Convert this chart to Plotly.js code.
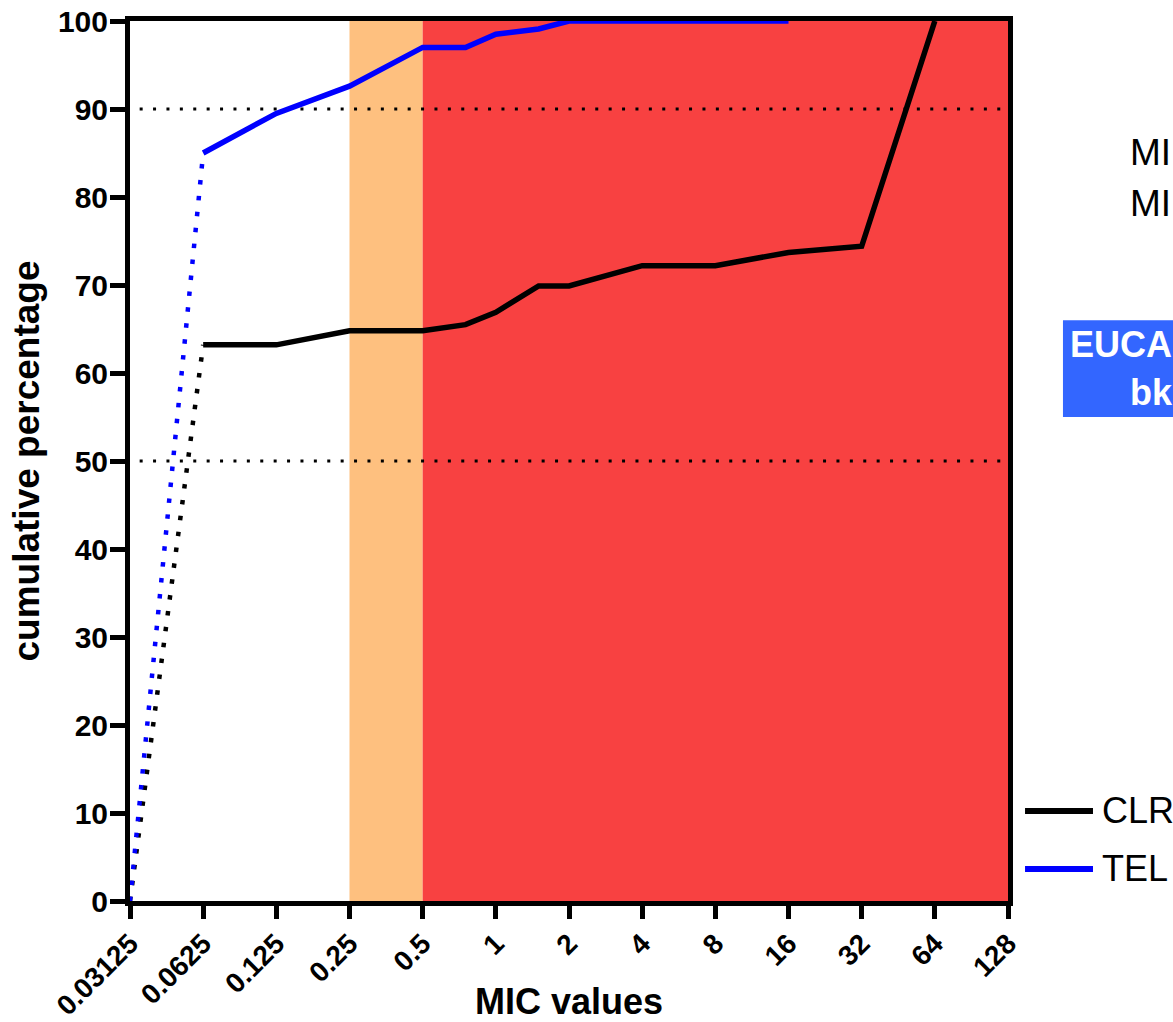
<!DOCTYPE html>
<html><head><meta charset="utf-8">
<script src="https://cdn.plot.ly/plotly-3.0.1.min.js"></script>
<style>html,body{margin:0;padding:0;background:#fff;overflow:hidden}</style>
</head><body><div id="chart" style="width:1173px;height:1022px"></div>
<script>
// ---- data ----
const micTicks = [0.03125, 0.0625, 0.125, 0.25, 0.5, 1, 2, 4, 8, 16, 32, 64, 128];
const micTickText = ['0.03125', '0.0625', '0.125', '0.25', '0.5', '1', '2', '4', '8', '16', '32', '64', '128'];
const yTicks = [0, 10, 20, 30, 40, 50, 60, 70, 80, 90, 100];
const clrMic = [0.03125, 0.0625, 0.125, 0.25, 0.5, 0.75, 1, 1.5, 2, 4, 8, 16, 32, 64];
const clrCum = [0, 63.2, 63.2, 64.8, 64.8, 65.5, 66.9, 69.9, 69.9, 72.2, 72.2, 73.7, 74.4, 100];
const telMic = [0.03125, 0.0625, 0.125, 0.25, 0.5, 0.75, 1, 1.5, 2, 4, 8, 16];
const telCum = [0, 85.0, 89.5, 92.6, 97.0, 97.0, 98.5, 99.1, 100, 100, 100, 100];
const refLines = [50, 90];
const intermediateZone = [0.25, 0.5];
const resistantZone = [0.5, 128];
const seriesNames = ['CLR', 'TEL'];
const sideLabels = ['MI', 'MI'];
const bkptLabels = ['EUCA', 'bk'];

// ---- style ----
const FONT = 'Arial, "Liberation Sans", sans-serif';
const BLACK = '#000000', BLUE = '#0000ff';
const ORANGE = '#fec07f', RED = '#f84141', BOXBLUE = '#3366ff';

function seg(x, y, from, to) { return {x: x.slice(from, to), y: y.slice(from, to)}; }

const traces = [];
[[clrMic, clrCum, BLACK], [telMic, telCum, BLUE]].forEach(([x, y, c]) => {
  const d = seg(x, y, 0, 2);
  traces.push({x: d.x, y: d.y, type: 'scatter', mode: 'lines', showlegend: false, hoverinfo: 'skip',
    line: {color: c, width: 4.5, dash: '4.5px,11.5px'}});
  const s = seg(x, y, 1);
  traces.push({x: s.x, y: s.y, type: 'scatter', mode: 'lines', showlegend: false,
    line: {color: c, width: 5.5}});
});

const shapes = [
  {type: 'rect', xref: 'x', yref: 'paper', x0: intermediateZone[0], x1: intermediateZone[1], y0: 0, y1: 1,
   fillcolor: ORANGE, line: {width: 0}, layer: 'below'},
  {type: 'rect', xref: 'x', yref: 'paper', x0: resistantZone[0], x1: resistantZone[1], y0: 0, y1: 1,
   fillcolor: RED, line: {width: 0}, layer: 'below'}
];
refLines.forEach(v => shapes.push({type: 'line', xref: 'paper', yref: 'y', x0: 0.011, x1: 0.992, y0: v, y1: v,
  line: {color: BLACK, width: 3, dash: '3px,10.4px'}, layer: 'below'}));

// legend (manual)
const legY = [0.1023, 0.0364];
[BLACK, BLUE].forEach((c, i) => shapes.push({type: 'line', xref: 'paper', yref: 'paper',
  x0: 1.0194, x1: 1.0968, y0: legY[i], y1: legY[i], line: {color: c, width: 6}}));
// EUCAST box
shapes.push({type: 'rect', xref: 'paper', yref: 'paper', x0: 1.0626, x1: 1.3, y0: 0.55, y1: 0.660,
  fillcolor: BOXBLUE, line: {width: 0}});

const annotations = [];
seriesNames.forEach((n, i) => annotations.push({xref: 'paper', yref: 'paper', x: 1.1048, y: legY[i],
  xanchor: 'left', yanchor: 'middle', text: n, showarrow: false,
  font: {family: FONT, size: 36, color: BLACK}}));
const sideY = [0.851, 0.793];
sideLabels.forEach((t, i) => annotations.push({xref: 'paper', yref: 'paper', x: 1.137, y: sideY[i],
  xanchor: 'left', yanchor: 'middle', text: t, showarrow: false,
  font: {family: FONT, size: 37, color: BLACK}}));
const bkX = [1.068, 1.1367], bkY = [0.632, 0.578];
bkptLabels.forEach((t, i) => annotations.push({xref: 'paper', yref: 'paper', x: bkX[i], y: bkY[i],
  xanchor: 'left', yanchor: 'middle', text: t, showarrow: false,
  font: {family: FONT, size: 36, color: '#ffffff', weight: 'bold'}}));

const layout = {
  width: 1173, height: 1022,
  margin: {l: 130, r: 165, t: 21, b: 121, pad: 0},
  paper_bgcolor: '#ffffff', plot_bgcolor: '#ffffff',
  showlegend: false,
  font: {family: FONT, color: BLACK},
  xaxis: {
    type: 'log', range: [Math.log10(micTicks[0]), Math.log10(micTicks[micTicks.length - 1])],
    tickmode: 'array', tickvals: micTicks, ticktext: micTickText, tickangle: -45,
    ticks: 'outside', ticklen: 13, tickwidth: 5, tickcolor: BLACK, ticklabelstandoff: -3,
    showline: true, linewidth: 5, linecolor: BLACK, mirror: true,
    showgrid: false, zeroline: false, layer: 'below traces',
    tickfont: {family: FONT, size: 28, weight: 'bold', color: BLACK},
    title: {text: 'MIC values', font: {family: FONT, size: 36, weight: 'bold', color: BLACK}, standoff: 3}
  },
  yaxis: {
    range: [0, 100], tickmode: 'array', tickvals: yTicks,
    ticks: 'outside', ticklen: 15, tickwidth: 5, tickcolor: BLACK, ticklabelstandoff: -4,
    showline: true, linewidth: 5, linecolor: BLACK, mirror: true,
    showgrid: false, zeroline: false, layer: 'below traces',
    tickfont: {family: FONT, size: 30, weight: 'bold', color: BLACK},
    title: {text: 'cumulative percentage', font: {family: FONT, size: 37, weight: 'bold', color: BLACK}, standoff: 8}
  },
  shapes: shapes,
  annotations: annotations
};

Plotly.newPlot('chart', traces, layout, {displayModeBar: false, staticPlot: true});
</script>
</body></html>
